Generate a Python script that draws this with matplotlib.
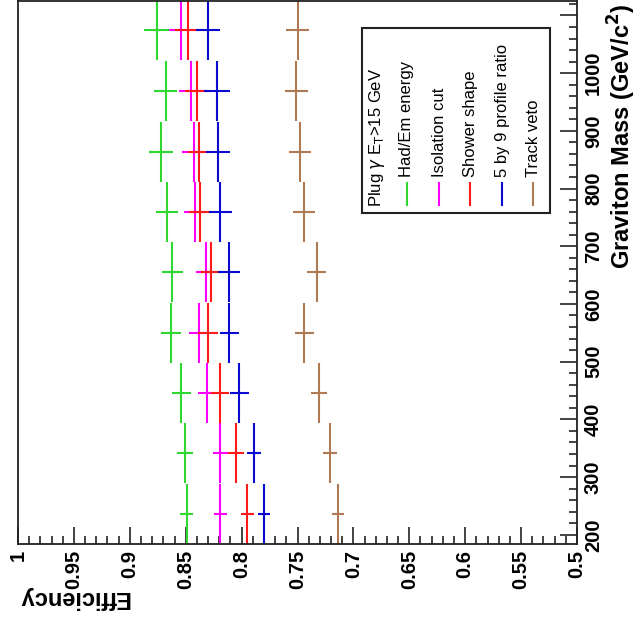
import matplotlib
matplotlib.use("Agg")
import matplotlib.pyplot as plt
from matplotlib.patches import Rectangle
from matplotlib.ticker import MultipleLocator, FuncFormatter

plt.rcParams["font.family"] = ["Liberation Sans", "DejaVu Sans"]

# Graviton mass bin centres (GeV/c^2) and half bin width
mass = [236, 341, 446, 550, 655, 760, 864, 969, 1074]
mass_halfwidth = 52

labels = ["Had/Em energy", "Isolation cut", "Shower shape", "5 by 9 profile ratio", "Track veto"]
colors = ["#2fd82f", "#ff00ff", "#ff1a1a", "#0a0ad0", "#b07a55"]

eff_hadem = [0.849, 0.851, 0.854, 0.863, 0.862, 0.867, 0.872, 0.868, 0.876]
eff_iso = [0.819, 0.819, 0.831, 0.838, 0.832, 0.842, 0.843, 0.845, 0.854]
eff_shower = [0.795, 0.805, 0.819, 0.830, 0.827, 0.837, 0.838, 0.840, 0.848]
eff_5by9 = [0.780, 0.789, 0.802, 0.811, 0.811, 0.819, 0.821, 0.822, 0.830]
eff_track = [0.714, 0.721, 0.731, 0.744, 0.733, 0.744, 0.748, 0.751, 0.750]

err_hadem = [0.0057, 0.0072, 0.0085, 0.0090, 0.0093, 0.0100, 0.0107, 0.0105, 0.0110]
err_iso = [0.0060, 0.0070, 0.0078, 0.0088, 0.0092, 0.0098, 0.0102, 0.0108, 0.0110]
err_shower = [0.0058, 0.0072, 0.0080, 0.0090, 0.0095, 0.0100, 0.0103, 0.0108, 0.0112]
err_5by9 = [0.0055, 0.0063, 0.0087, 0.0087, 0.0097, 0.0100, 0.0105, 0.0116, 0.0105]
err_track = [0.0052, 0.0060, 0.0070, 0.0084, 0.0088, 0.0097, 0.0098, 0.0101, 0.0105]

series = [
    (eff_hadem, err_hadem),
    (eff_iso, err_iso),
    (eff_shower, err_shower),
    (eff_5by9, err_5by9),
    (eff_track, err_track),
]

W, H = 639, 626
fig = plt.figure(figsize=(W / 100, H / 100), dpi=100)
# plot is drawn rotated: efficiency along the bottom, mass along the right side
ax = fig.add_axes([18 / W, 1 - 544 / H, 559 / W, 543 / H])

for (eff, err), color in zip(series, colors):
    ax.errorbar(eff, mass, xerr=err, yerr=mass_halfwidth, fmt="none",
                ecolor=color, elinewidth=1.5, capsize=0)

ax.set_xlim(1.0, 0.5)
ax.set_ylim(184, 1125)

ax.xaxis.set_major_locator(MultipleLocator(0.05))
ax.xaxis.set_minor_locator(MultipleLocator(0.01))
ax.yaxis.set_major_locator(MultipleLocator(100))
ax.yaxis.set_minor_locator(MultipleLocator(20))
ax.xaxis.set_major_formatter(FuncFormatter(lambda v, p: f"{v:g}"))
# the 1100 label sits off the top of the picture in the reference
ax.yaxis.set_major_formatter(FuncFormatter(lambda v, p: f"{v:g}" if v <= 1050 else ""))
ax.yaxis.tick_right()

ax.tick_params(axis="both", which="both", direction="in", width=1.2, color="#222222")
ax.tick_params(axis="both", which="major", length=12)
ax.tick_params(axis="both", which="minor", length=5.5)
ax.tick_params(axis="x", which="major", labelrotation=90, pad=4)
ax.tick_params(axis="y", which="major", labelrotation=90, pad=5)
for lab in ax.get_xticklabels() + ax.get_yticklabels():
    lab.set_fontsize(14.5)
    lab.set_fontweight("bold")
for lab in ax.get_yticklabels():
    lab.set_verticalalignment("center")
for sp in ax.spines.values():
    sp.set_linewidth(1.3)
    sp.set_color("#222222")

fig.text(18 / W, 1 - 598 / H, "Efficiency", rotation=180, rotation_mode="anchor",
         ha="right", va="center", fontsize=17, fontweight="bold")
fig.text(622 / W, 1 - 4 / H, r"Graviton Mass (GeV/c$^{\mathbf{2}}$)", rotation=90,
         rotation_mode="anchor", ha="right", va="center", fontsize=17, fontweight="bold")

# legend (drawn rotated, like the rest of the picture)
def ax_x(px):
    return (px - 18) / 559


def ax_y(py):
    return (544 - py) / 543


ax.add_patch(Rectangle((ax_x(362), ax_y(213)), ax_x(550) - ax_x(362), ax_y(28) - ax_y(213),
                       transform=ax.transAxes, facecolor="white", edgecolor="#222222",
                       linewidth=1.5, zorder=5))
ax.text(ax_x(377), ax_y(207), r"Plug $\gamma$ E$_{\mathrm{T}}$>15 GeV", transform=ax.transAxes,
        rotation=90, rotation_mode="anchor", ha="left", va="center", fontsize=12, zorder=6)
columns = [407, 439, 470, 502, 533]
for px, label, color in zip(columns, labels, colors):
    ax.plot([ax_x(px), ax_x(px)], [ax_y(205), ax_y(183)], transform=ax.transAxes,
            color=color, lw=1.5, zorder=6)
    ax.text(ax_x(px), ax_y(177), label, transform=ax.transAxes, rotation=90,
            rotation_mode="anchor", ha="left", va="center", fontsize=12, zorder=6)

fig.savefig("out.png", dpi=100)
